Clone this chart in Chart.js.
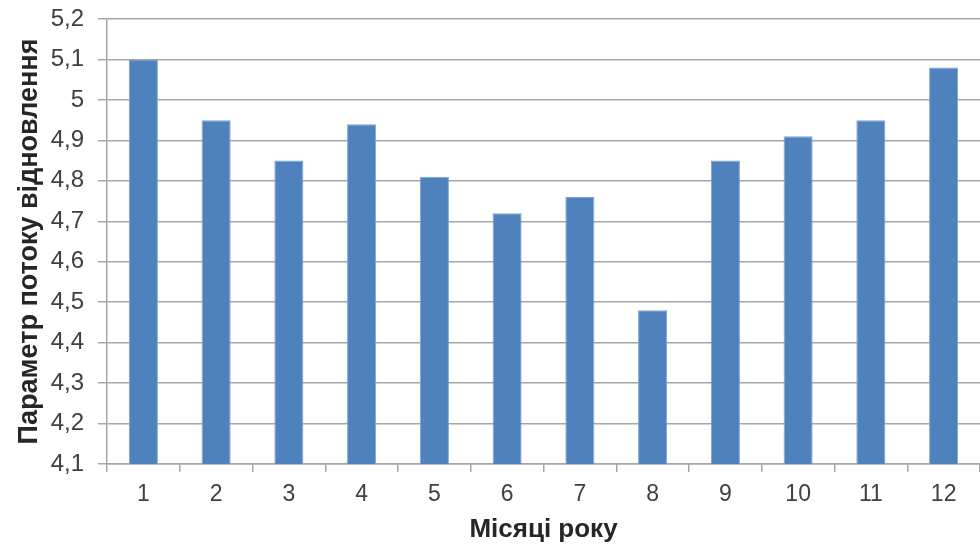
<!DOCTYPE html>
<html lang="uk">
  <head>
    <meta charset="UTF-8" />
    <title>Параметр потоку відновлення</title>
    <style>
      body { margin: 0; background: #fff; overflow: hidden; }
      #chart { display: block; }
    </style>
  </head>
  <body>
    <canvas id="chart" width="980" height="549"></canvas>

    <script src="https://cdn.jsdelivr.net/npm/chart.js"></script>
    <script>
      // months and values
      const months = ['1', '2', '3', '4', '5', '6', '7', '8', '9', '10', '11', '12'];
      const flowParam = [5.10, 4.95, 4.85, 4.94, 4.81, 4.72, 4.76, 4.48, 4.85, 4.91, 4.95, 5.08];
      const yMin = 4.1;
      const yMax = 5.2;
      const yStep = 0.1;

      const gridColor = '#a6a6a6';
      const labelColor = '#404040';
      const fontFamily = 'Liberation Sans, Arial, sans-serif';

      new Chart(document.getElementById('chart').getContext('2d'), {
        type: 'bar',
        data: {
          labels: months,
          datasets: [{
            label: 'Параметр потоку відновлення',
            data: flowParam,
            backgroundColor: '#4f81bd',
            borderColor: '#7ea3d2',
            borderWidth: 1,
            borderSkipped: 'bottom',
            barPercentage: 0.4,
            categoryPercentage: 1
          }]
        },
        options: {
          responsive: false,
          animation: false,
          layout: { padding: { top: 19, right: 0, bottom: 0, left: 0 } },
          plugins: {
            legend: { display: false },
            tooltip: { enabled: false }
          },
          scales: {
            x: {
              offset: true,
              grid: {
                offset: true,
                drawOnChartArea: false,
                drawTicks: true,
                tickLength: 8,
                color: gridColor,
                lineWidth: 1.5
              },
              border: { color: gridColor, width: 1.5 },
              ticks: {
                color: labelColor,
                padding: 9,
                font: { family: fontFamily, size: 23 }
              },
              title: {
                display: true,
                text: 'Місяці року',
                color: '#262626',
                padding: { top: 0, bottom: 4 },
                font: { family: fontFamily, size: 26, weight: 'bold' }
              },
              afterFit(scale) {
                scale.height = 85;
                scale.paddingLeft = 0;
                scale.paddingRight = 0;
              }
            },
            y: {
              min: yMin,
              max: yMax,
              grid: {
                color: gridColor,
                lineWidth: 1.5,
                tickLength: 9
              },
              border: { color: gridColor, width: 1.5 },
              ticks: {
                stepSize: yStep,
                color: labelColor,
                padding: 14,
                font: { family: fontFamily, size: 24 },
                callback: v => Number(v.toFixed(1)).toString().replace('.', ',')
              },
              title: {
                display: true,
                text: 'Параметр потоку відновлення',
                color: '#262626',
                padding: { top: 13, bottom: 0 },
                font: { family: fontFamily, size: 27, weight: 'bold' }
              },
              afterFit(scale) {
                scale.width = 107;
                scale.paddingTop = 0;
                scale.paddingBottom = 0;
              }
            }
          }
        }
      });
    </script>
  </body>
</html>
